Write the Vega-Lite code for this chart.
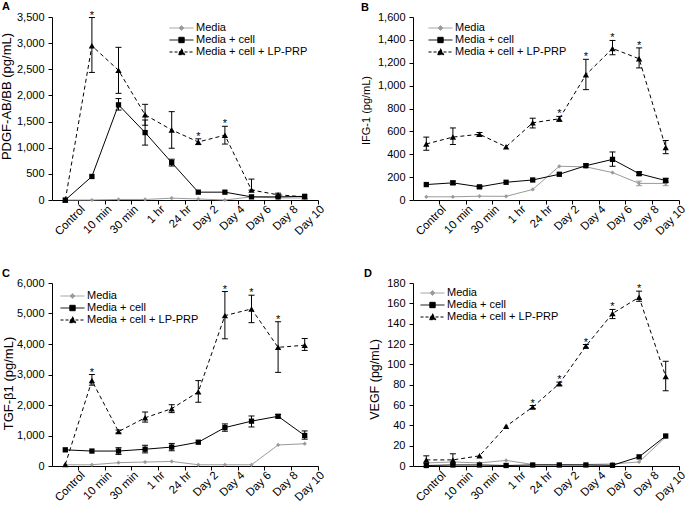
{
"$schema": "https://vega.github.io/schema/vega-lite/v6.json",
"background": "white",
"padding": {"left": 0, "top": 0, "right": 0, "bottom": 0},
"config": {
 "font": "Liberation Sans",
 "view": {"stroke": null},
 "axis": {"labelFont": "Liberation Sans", "labelFontSize": 11, "labelColor": "#000", "titleFont": "Liberation Sans", "titleFontSize": 11, "titleFontWeight": "normal", "titleColor": "#000", "domainColor": "#000", "tickColor": "#000", "tickSize": 4, "grid": false, "labelPadding": 4, "domainWidth": 1, "tickWidth": 1},
 "axisX": {"labelFontSize": 11.5},
 "legend": {"labelFont": "Liberation Sans", "labelFontSize": 11, "labelColor": "#000", "symbolSize": 144, "symbolStrokeWidth": 1, "rowPadding": 0, "labelOffset": 8, "padding": 0},
 "title": {"anchor": "start", "frame": "group", "fontSize": 11, "fontWeight": "bold", "font": "Liberation Sans", "color": "#000", "offset": -2}
},
"resolve": {"scale": {"color": "independent", "fill": "independent", "stroke": "independent", "shape": "independent", "strokeDash": "independent"}},
"data": {"values": [
{"panel":"A","time":"Control","series":"Media","value":0},
{"panel":"A","time":"10 min","series":"Media","value":0},
{"panel":"A","time":"30 min","series":"Media","value":10},
{"panel":"A","time":"1 hr","series":"Media","value":10},
{"panel":"A","time":"24 hr","series":"Media","value":35},
{"panel":"A","time":"Day 2","series":"Media","value":20},
{"panel":"A","time":"Day 4","series":"Media","value":0},
{"panel":"A","time":"Day 6","series":"Media","value":60},
{"panel":"A","time":"Day 8","series":"Media","value":40},
{"panel":"A","time":"Day 10","series":"Media","value":40},
{"panel":"A","time":"Control","series":"Media + cell","value":0},
{"panel":"A","time":"10 min","series":"Media + cell","value":450},
{"panel":"A","time":"30 min","series":"Media + cell","value":1820,"lo":1720,"hi":1940},
{"panel":"A","time":"1 hr","series":"Media + cell","value":1290,"lo":1050,"hi":1530},
{"panel":"A","time":"24 hr","series":"Media + cell","value":715,"lo":650,"hi":780},
{"panel":"A","time":"Day 2","series":"Media + cell","value":150},
{"panel":"A","time":"Day 4","series":"Media + cell","value":150},
{"panel":"A","time":"Day 6","series":"Media + cell","value":60},
{"panel":"A","time":"Day 8","series":"Media + cell","value":60},
{"panel":"A","time":"Day 10","series":"Media + cell","value":70},
{"panel":"A","time":"Control","series":"Media + cell + LP-PRP","value":0},
{"panel":"A","time":"10 min","series":"Media + cell + LP-PRP","value":2950,"lo":2440,"hi":3490,"sig":"*"},
{"panel":"A","time":"30 min","series":"Media + cell + LP-PRP","value":2480,"lo":2040,"hi":2920},
{"panel":"A","time":"1 hr","series":"Media + cell + LP-PRP","value":1630,"lo":1430,"hi":1830},
{"panel":"A","time":"24 hr","series":"Media + cell + LP-PRP","value":1340,"lo":990,"hi":1690},
{"panel":"A","time":"Day 2","series":"Media + cell + LP-PRP","value":1110,"lo":1060,"hi":1170,"sig":"*"},
{"panel":"A","time":"Day 4","series":"Media + cell + LP-PRP","value":1240,"lo":1070,"hi":1410,"sig":"*"},
{"panel":"A","time":"Day 6","series":"Media + cell + LP-PRP","value":190,"lo":190,"hi":400},
{"panel":"A","time":"Day 8","series":"Media + cell + LP-PRP","value":100,"lo":70,"hi":130},
{"panel":"A","time":"Day 10","series":"Media + cell + LP-PRP","value":60},
{"panel":"B","time":"Control","series":"Media","value":28},
{"panel":"B","time":"10 min","series":"Media","value":28},
{"panel":"B","time":"30 min","series":"Media","value":33},
{"panel":"B","time":"1 hr","series":"Media","value":32},
{"panel":"B","time":"24 hr","series":"Media","value":92},
{"panel":"B","time":"Day 2","series":"Media","value":295},
{"panel":"B","time":"Day 4","series":"Media","value":290},
{"panel":"B","time":"Day 6","series":"Media","value":240},
{"panel":"B","time":"Day 8","series":"Media","value":145,"lo":125,"hi":165},
{"panel":"B","time":"Day 10","series":"Media","value":145,"lo":125,"hi":165},
{"panel":"B","time":"Control","series":"Media + cell","value":135},
{"panel":"B","time":"10 min","series":"Media + cell","value":150,"lo":135,"hi":165},
{"panel":"B","time":"30 min","series":"Media + cell","value":115,"lo":105,"hi":125},
{"panel":"B","time":"1 hr","series":"Media + cell","value":155},
{"panel":"B","time":"24 hr","series":"Media + cell","value":175},
{"panel":"B","time":"Day 2","series":"Media + cell","value":225},
{"panel":"B","time":"Day 4","series":"Media + cell","value":300,"lo":285,"hi":315},
{"panel":"B","time":"Day 6","series":"Media + cell","value":355,"lo":295,"hi":420},
{"panel":"B","time":"Day 8","series":"Media + cell","value":230,"lo":215,"hi":245},
{"panel":"B","time":"Day 10","series":"Media + cell","value":170,"lo":155,"hi":190},
{"panel":"B","time":"Control","series":"Media + cell + LP-PRP","value":490,"lo":435,"hi":550},
{"panel":"B","time":"10 min","series":"Media + cell + LP-PRP","value":550,"lo":485,"hi":630},
{"panel":"B","time":"30 min","series":"Media + cell + LP-PRP","value":575,"lo":560,"hi":590},
{"panel":"B","time":"1 hr","series":"Media + cell + LP-PRP","value":465},
{"panel":"B","time":"24 hr","series":"Media + cell + LP-PRP","value":675,"lo":630,"hi":715},
{"panel":"B","time":"Day 2","series":"Media + cell + LP-PRP","value":710,"lo":688,"hi":731,"sig":"*"},
{"panel":"B","time":"Day 4","series":"Media + cell + LP-PRP","value":1095,"lo":965,"hi":1230,"sig":"*"},
{"panel":"B","time":"Day 6","series":"Media + cell + LP-PRP","value":1325,"lo":1270,"hi":1395,"sig":"*"},
{"panel":"B","time":"Day 8","series":"Media + cell + LP-PRP","value":1235,"lo":1155,"hi":1330,"sig":"*"},
{"panel":"B","time":"Day 10","series":"Media + cell + LP-PRP","value":460,"lo":405,"hi":520},
{"panel":"C","time":"Control","series":"Media","value":40},
{"panel":"C","time":"10 min","series":"Media","value":40},
{"panel":"C","time":"30 min","series":"Media","value":110},
{"panel":"C","time":"1 hr","series":"Media","value":130},
{"panel":"C","time":"24 hr","series":"Media","value":150},
{"panel":"C","time":"Day 2","series":"Media","value":40},
{"panel":"C","time":"Day 4","series":"Media","value":40},
{"panel":"C","time":"Day 6","series":"Media","value":40},
{"panel":"C","time":"Day 8","series":"Media","value":690},
{"panel":"C","time":"Day 10","series":"Media","value":730},
{"panel":"C","time":"Control","series":"Media + cell","value":530},
{"panel":"C","time":"10 min","series":"Media + cell","value":490},
{"panel":"C","time":"30 min","series":"Media + cell","value":490,"lo":380,"hi":600},
{"panel":"C","time":"1 hr","series":"Media + cell","value":550,"lo":430,"hi":680},
{"panel":"C","time":"24 hr","series":"Media + cell","value":620,"lo":500,"hi":740},
{"panel":"C","time":"Day 2","series":"Media + cell","value":780},
{"panel":"C","time":"Day 4","series":"Media + cell","value":1260,"lo":1140,"hi":1380},
{"panel":"C","time":"Day 6","series":"Media + cell","value":1470,"lo":1280,"hi":1640},
{"panel":"C","time":"Day 8","series":"Media + cell","value":1630,"lo":1580,"hi":1690},
{"panel":"C","time":"Day 10","series":"Media + cell","value":1000,"lo":880,"hi":1150},
{"panel":"C","time":"Control","series":"Media + cell + LP-PRP","value":50},
{"panel":"C","time":"10 min","series":"Media + cell + LP-PRP","value":2800,"lo":2650,"hi":3000,"sig":"*"},
{"panel":"C","time":"30 min","series":"Media + cell + LP-PRP","value":1130,"lo":1080,"hi":1180},
{"panel":"C","time":"1 hr","series":"Media + cell + LP-PRP","value":1580,"lo":1440,"hi":1770},
{"panel":"C","time":"24 hr","series":"Media + cell + LP-PRP","value":1880,"lo":1750,"hi":2010},
{"panel":"C","time":"Day 2","series":"Media + cell + LP-PRP","value":2430,"lo":2090,"hi":2800},
{"panel":"C","time":"Day 4","series":"Media + cell + LP-PRP","value":4930,"lo":4170,"hi":5720,"sig":"*"},
{"panel":"C","time":"Day 6","series":"Media + cell + LP-PRP","value":5150,"lo":4700,"hi":5600,"sig":"*"},
{"panel":"C","time":"Day 8","series":"Media + cell + LP-PRP","value":3890,"lo":3070,"hi":4730,"sig":"*"},
{"panel":"C","time":"Day 10","series":"Media + cell + LP-PRP","value":3960,"lo":3790,"hi":4180},
{"panel":"D","time":"Control","series":"Media","value":3},
{"panel":"D","time":"10 min","series":"Media","value":4},
{"panel":"D","time":"30 min","series":"Media","value":3},
{"panel":"D","time":"1 hr","series":"Media","value":5.5},
{"panel":"D","time":"24 hr","series":"Media","value":1.5},
{"panel":"D","time":"Day 2","series":"Media","value":1.5},
{"panel":"D","time":"Day 4","series":"Media","value":1.5},
{"panel":"D","time":"Day 6","series":"Media","value":2},
{"panel":"D","time":"Day 8","series":"Media","value":4},
{"panel":"D","time":"Day 10","series":"Media","value":28.5},
{"panel":"D","time":"Control","series":"Media + cell","value":0.5},
{"panel":"D","time":"10 min","series":"Media + cell","value":1},
{"panel":"D","time":"30 min","series":"Media + cell","value":1},
{"panel":"D","time":"1 hr","series":"Media + cell","value":0.5},
{"panel":"D","time":"24 hr","series":"Media + cell","value":1},
{"panel":"D","time":"Day 2","series":"Media + cell","value":1},
{"panel":"D","time":"Day 4","series":"Media + cell","value":1},
{"panel":"D","time":"Day 6","series":"Media + cell","value":0.7},
{"panel":"D","time":"Day 8","series":"Media + cell","value":9},
{"panel":"D","time":"Day 10","series":"Media + cell","value":29.5},
{"panel":"D","time":"Control","series":"Media + cell + LP-PRP","value":6,"lo":3,"hi":10},
{"panel":"D","time":"10 min","series":"Media + cell + LP-PRP","value":6,"lo":2,"hi":12},
{"panel":"D","time":"30 min","series":"Media + cell + LP-PRP","value":10},
{"panel":"D","time":"1 hr","series":"Media + cell + LP-PRP","value":39},
{"panel":"D","time":"24 hr","series":"Media + cell + LP-PRP","value":58,"lo":56.5,"hi":59.5,"sig":"*"},
{"panel":"D","time":"Day 2","series":"Media + cell + LP-PRP","value":81,"lo":79.5,"hi":82.5,"sig":"*"},
{"panel":"D","time":"Day 4","series":"Media + cell + LP-PRP","value":118,"lo":116,"hi":119.5,"sig":"*"},
{"panel":"D","time":"Day 6","series":"Media + cell + LP-PRP","value":150,"lo":145,"hi":154,"sig":"*"},
{"panel":"D","time":"Day 8","series":"Media + cell + LP-PRP","value":166,"lo":162,"hi":172,"sig":"*"},
{"panel":"D","time":"Day 10","series":"Media + cell + LP-PRP","value":88,"lo":74,"hi":103}
]},
"columns": 2,
"spacing": {"row": 83, "column": 95},
"bounds": "flush",
"concat": [
{
 "width": 266, "height": 183,
 "title": {"text": "A", "dx": -50},
 "transform": [{"filter": "datum.panel === 'A'"}],
 "encoding": {
  "x": {"field": "time", "type": "nominal", "sort": ["Control","10 min","30 min","1 hr","24 hr","Day 2","Day 4","Day 6","Day 8","Day 10"], "scale": {"type": "band", "paddingInner": 0, "paddingOuter": 0}, "axis": {"title": null, "labelAngle": -45, "labelAlign": "right", "labelBaseline": "top", "bandPosition": 1, "labelPadding": -1, "labelOffset": 14}},
  "y": {"field": "value", "type": "quantitative", "scale": {"domain": [0,3500], "nice": false}, "title": "PDGF-AB/BB (pg/mL)", "axis": {"values": [0,500,1000,1500,2000,2500,3000,3500], "format": ",.0f", "titlePadding": 3, "titleFontSize": 13, "titleY": 79}}
 },
 "layer": [
  {"mark": {"type": "rule", "strokeWidth": 1}, "encoding": {"y": {"field": "lo", "type": "quantitative", "scale": {"domain": [0,3500], "nice": false}, "title": "PDGF-AB/BB (pg/mL)", "axis": {"values": [0,500,1000,1500,2000,2500,3000,3500], "format": ",.0f", "titlePadding": 3, "titleFontSize": 13, "titleY": 79}}, "y2": {"field": "hi"}, "color": {"field": "series", "type": "nominal", "scale": {"range": ["#9a9a9a","#000000","#000000"]}, "legend": null}}},
  {"mark": {"type": "tick", "size": 6, "thickness": 1, "opacity": 1}, "encoding": {"y": {"field": "lo", "type": "quantitative", "scale": {"domain": [0,3500], "nice": false}, "title": "PDGF-AB/BB (pg/mL)", "axis": {"values": [0,500,1000,1500,2000,2500,3000,3500], "format": ",.0f", "titlePadding": 3, "titleFontSize": 13, "titleY": 79}}, "color": {"field": "series", "type": "nominal", "scale": {"range": ["#9a9a9a","#000000","#000000"]}, "legend": null}}},
  {"mark": {"type": "tick", "size": 6, "thickness": 1, "opacity": 1}, "encoding": {"y": {"field": "hi", "type": "quantitative", "scale": {"domain": [0,3500], "nice": false}, "title": "PDGF-AB/BB (pg/mL)", "axis": {"values": [0,500,1000,1500,2000,2500,3000,3500], "format": ",.0f", "titlePadding": 3, "titleFontSize": 13, "titleY": 79}}, "color": {"field": "series", "type": "nominal", "scale": {"range": ["#9a9a9a","#000000","#000000"]}, "legend": null}}},
  {"transform": [{"filter": "datum.series !== 'Media + cell + LP-PRP'"}], "mark": {"type": "line", "strokeWidth": 1}, "encoding": {"color": {"field": "series", "type": "nominal", "scale": {"range": ["#9a9a9a","#000000","#000000"]}, "legend": null}}},
  {"transform": [{"filter": "datum.series === 'Media + cell + LP-PRP'"}], "mark": {"type": "line", "strokeWidth": 1, "strokeDash": [4,3], "color": "#000000"}},
  {"transform": [{"filter": "datum.series === 'Media'"}], "mark": {"type": "point", "filled": true, "opacity": 1, "shape": "diamond", "size": 18, "color": "#9a9a9a"}},
  {"transform": [{"filter": "datum.series === 'Media + cell'"}], "mark": {"type": "point", "filled": true, "opacity": 1, "shape": "square", "size": 28, "color": "#000000"}},
  {"transform": [{"filter": "datum.series === 'Media + cell + LP-PRP'"}], "mark": {"type": "point", "filled": true, "opacity": 1, "shape": "triangle-up", "size": 40, "color": "#000000"}},
  {"transform": [{"filter": "datum.sig === '*'"}], "mark": {"type": "text", "fontSize": 11, "dy": 1, "baseline": "alphabetic", "color": "#000000"}, "encoding": {"y": {"field": "hi", "type": "quantitative", "scale": {"domain": [0,3500], "nice": false}, "title": "PDGF-AB/BB (pg/mL)", "axis": {"values": [0,500,1000,1500,2000,2500,3000,3500], "format": ",.0f", "titlePadding": 3, "titleFontSize": 13, "titleY": 79}}, "text": {"field": "sig"}}},
  {"transform": [{"filter": "datum.panel === 'none'"}], "mark": {"type": "point", "filled": true, "opacity": 1},
   "encoding": {
    "fill": {"field": "series", "type": "nominal", "scale": {"domain": ["Media","Media + cell","Media + cell + LP-PRP"], "range": ["#9a9a9a","#000000","#000000"]}, "legend": {"title": null, "orient": "none", "legendX": 123, "legendY": 4.5}},
    "stroke": {"field": "series", "type": "nominal", "scale": {"domain": ["Media","Media + cell","Media + cell + LP-PRP"], "range": ["#9a9a9a","#000000","#000000"]}, "legend": {"title": null, "orient": "none", "legendX": 123, "legendY": 4.5}},
    "shape": {"field": "series", "type": "nominal", "scale": {"domain": ["Media","Media + cell","Media + cell + LP-PRP"], "range": ["M-2,0H2M0,-0.4L0.4,0L0,0.4L-0.4,0Z","M-2,0H2M-0.45,-0.45H0.45V0.45H-0.45Z","M-2,0H2M0,-0.55L0.55,0.45H-0.55Z"]}, "legend": {"title": null, "orient": "none", "legendX": 123, "legendY": 4.5}},
    "strokeDash": {"field": "series", "type": "nominal", "scale": {"domain": ["Media","Media + cell","Media + cell + LP-PRP"], "range": [[1,0],[1,0],[3,2]]}, "legend": {"title": null, "orient": "none", "legendX": 123, "legendY": 4.5}}
   }}
 ]
},
{
 "width": 266, "height": 183,
 "title": {"text": "B", "dx": -52},
 "transform": [{"filter": "datum.panel === 'B'"}],
 "encoding": {
  "x": {"field": "time", "type": "nominal", "sort": ["Control","10 min","30 min","1 hr","24 hr","Day 2","Day 4","Day 6","Day 8","Day 10"], "scale": {"type": "band", "paddingInner": 0, "paddingOuter": 0}, "axis": {"title": null, "labelAngle": -45, "labelAlign": "right", "labelBaseline": "top", "bandPosition": 1, "labelPadding": -1, "labelOffset": 14}},
  "y": {"field": "value", "type": "quantitative", "scale": {"domain": [0,1600], "nice": false}, "title": "IFG-1 (pg/mL)", "axis": {"values": [0,200,400,600,800,1000,1200,1400,1600], "format": ",.0f", "titlePadding": 6, "titleY": 93}}
 },
 "layer": [
  {"mark": {"type": "rule", "strokeWidth": 1}, "encoding": {"y": {"field": "lo", "type": "quantitative", "scale": {"domain": [0,1600], "nice": false}, "title": "IFG-1 (pg/mL)", "axis": {"values": [0,200,400,600,800,1000,1200,1400,1600], "format": ",.0f", "titlePadding": 6, "titleY": 93}}, "y2": {"field": "hi"}, "color": {"field": "series", "type": "nominal", "scale": {"range": ["#9a9a9a","#000000","#000000"]}, "legend": null}}},
  {"mark": {"type": "tick", "size": 6, "thickness": 1, "opacity": 1}, "encoding": {"y": {"field": "lo", "type": "quantitative", "scale": {"domain": [0,1600], "nice": false}, "title": "IFG-1 (pg/mL)", "axis": {"values": [0,200,400,600,800,1000,1200,1400,1600], "format": ",.0f", "titlePadding": 6, "titleY": 93}}, "color": {"field": "series", "type": "nominal", "scale": {"range": ["#9a9a9a","#000000","#000000"]}, "legend": null}}},
  {"mark": {"type": "tick", "size": 6, "thickness": 1, "opacity": 1}, "encoding": {"y": {"field": "hi", "type": "quantitative", "scale": {"domain": [0,1600], "nice": false}, "title": "IFG-1 (pg/mL)", "axis": {"values": [0,200,400,600,800,1000,1200,1400,1600], "format": ",.0f", "titlePadding": 6, "titleY": 93}}, "color": {"field": "series", "type": "nominal", "scale": {"range": ["#9a9a9a","#000000","#000000"]}, "legend": null}}},
  {"transform": [{"filter": "datum.series !== 'Media + cell + LP-PRP'"}], "mark": {"type": "line", "strokeWidth": 1}, "encoding": {"color": {"field": "series", "type": "nominal", "scale": {"range": ["#9a9a9a","#000000","#000000"]}, "legend": null}}},
  {"transform": [{"filter": "datum.series === 'Media + cell + LP-PRP'"}], "mark": {"type": "line", "strokeWidth": 1, "strokeDash": [4,3], "color": "#000000"}},
  {"transform": [{"filter": "datum.series === 'Media'"}], "mark": {"type": "point", "filled": true, "opacity": 1, "shape": "diamond", "size": 18, "color": "#9a9a9a"}},
  {"transform": [{"filter": "datum.series === 'Media + cell'"}], "mark": {"type": "point", "filled": true, "opacity": 1, "shape": "square", "size": 28, "color": "#000000"}},
  {"transform": [{"filter": "datum.series === 'Media + cell + LP-PRP'"}], "mark": {"type": "point", "filled": true, "opacity": 1, "shape": "triangle-up", "size": 40, "color": "#000000"}},
  {"transform": [{"filter": "datum.sig === '*'"}], "mark": {"type": "text", "fontSize": 11, "dy": 1, "baseline": "alphabetic", "color": "#000000"}, "encoding": {"y": {"field": "hi", "type": "quantitative", "scale": {"domain": [0,1600], "nice": false}, "title": "IFG-1 (pg/mL)", "axis": {"values": [0,200,400,600,800,1000,1200,1400,1600], "format": ",.0f", "titlePadding": 6, "titleY": 93}}, "text": {"field": "sig"}}},
  {"transform": [{"filter": "datum.panel === 'none'"}], "mark": {"type": "point", "filled": true, "opacity": 1},
   "encoding": {
    "fill": {"field": "series", "type": "nominal", "scale": {"domain": ["Media","Media + cell","Media + cell + LP-PRP"], "range": ["#9a9a9a","#000000","#000000"]}, "legend": {"title": null, "orient": "none", "legendX": 21, "legendY": 4.5}},
    "stroke": {"field": "series", "type": "nominal", "scale": {"domain": ["Media","Media + cell","Media + cell + LP-PRP"], "range": ["#9a9a9a","#000000","#000000"]}, "legend": {"title": null, "orient": "none", "legendX": 21, "legendY": 4.5}},
    "shape": {"field": "series", "type": "nominal", "scale": {"domain": ["Media","Media + cell","Media + cell + LP-PRP"], "range": ["M-2,0H2M0,-0.4L0.4,0L0,0.4L-0.4,0Z","M-2,0H2M-0.45,-0.45H0.45V0.45H-0.45Z","M-2,0H2M0,-0.55L0.55,0.45H-0.55Z"]}, "legend": {"title": null, "orient": "none", "legendX": 21, "legendY": 4.5}},
    "strokeDash": {"field": "series", "type": "nominal", "scale": {"domain": ["Media","Media + cell","Media + cell + LP-PRP"], "range": [[1,0],[1,0],[3,2]]}, "legend": {"title": null, "orient": "none", "legendX": 21, "legendY": 4.5}}
   }}
 ]
},
{
 "width": 266, "height": 183,
 "title": {"text": "C", "dx": -50},
 "transform": [{"filter": "datum.panel === 'C'"}],
 "encoding": {
  "x": {"field": "time", "type": "nominal", "sort": ["Control","10 min","30 min","1 hr","24 hr","Day 2","Day 4","Day 6","Day 8","Day 10"], "scale": {"type": "band", "paddingInner": 0, "paddingOuter": 0}, "axis": {"title": null, "labelAngle": -45, "labelAlign": "right", "labelBaseline": "top", "bandPosition": 1, "labelPadding": -1, "labelOffset": 14}},
  "y": {"field": "value", "type": "quantitative", "scale": {"domain": [0,6000], "nice": false}, "title": "TGF-β1 (pg/mL)", "axis": {"values": [0,1000,2000,3000,4000,5000,6000], "format": ",.0f", "titlePadding": 1, "titleFontSize": 13, "titleY": 100}}
 },
 "layer": [
  {"mark": {"type": "rule", "strokeWidth": 1}, "encoding": {"y": {"field": "lo", "type": "quantitative", "scale": {"domain": [0,6000], "nice": false}, "title": "TGF-β1 (pg/mL)", "axis": {"values": [0,1000,2000,3000,4000,5000,6000], "format": ",.0f", "titlePadding": 1, "titleFontSize": 13, "titleY": 100}}, "y2": {"field": "hi"}, "color": {"field": "series", "type": "nominal", "scale": {"range": ["#9a9a9a","#000000","#000000"]}, "legend": null}}},
  {"mark": {"type": "tick", "size": 6, "thickness": 1, "opacity": 1}, "encoding": {"y": {"field": "lo", "type": "quantitative", "scale": {"domain": [0,6000], "nice": false}, "title": "TGF-β1 (pg/mL)", "axis": {"values": [0,1000,2000,3000,4000,5000,6000], "format": ",.0f", "titlePadding": 1, "titleFontSize": 13, "titleY": 100}}, "color": {"field": "series", "type": "nominal", "scale": {"range": ["#9a9a9a","#000000","#000000"]}, "legend": null}}},
  {"mark": {"type": "tick", "size": 6, "thickness": 1, "opacity": 1}, "encoding": {"y": {"field": "hi", "type": "quantitative", "scale": {"domain": [0,6000], "nice": false}, "title": "TGF-β1 (pg/mL)", "axis": {"values": [0,1000,2000,3000,4000,5000,6000], "format": ",.0f", "titlePadding": 1, "titleFontSize": 13, "titleY": 100}}, "color": {"field": "series", "type": "nominal", "scale": {"range": ["#9a9a9a","#000000","#000000"]}, "legend": null}}},
  {"transform": [{"filter": "datum.series !== 'Media + cell + LP-PRP'"}], "mark": {"type": "line", "strokeWidth": 1}, "encoding": {"color": {"field": "series", "type": "nominal", "scale": {"range": ["#9a9a9a","#000000","#000000"]}, "legend": null}}},
  {"transform": [{"filter": "datum.series === 'Media + cell + LP-PRP'"}], "mark": {"type": "line", "strokeWidth": 1, "strokeDash": [4,3], "color": "#000000"}},
  {"transform": [{"filter": "datum.series === 'Media'"}], "mark": {"type": "point", "filled": true, "opacity": 1, "shape": "diamond", "size": 18, "color": "#9a9a9a"}},
  {"transform": [{"filter": "datum.series === 'Media + cell'"}], "mark": {"type": "point", "filled": true, "opacity": 1, "shape": "square", "size": 28, "color": "#000000"}},
  {"transform": [{"filter": "datum.series === 'Media + cell + LP-PRP'"}], "mark": {"type": "point", "filled": true, "opacity": 1, "shape": "triangle-up", "size": 40, "color": "#000000"}},
  {"transform": [{"filter": "datum.sig === '*'"}], "mark": {"type": "text", "fontSize": 11, "dy": 1, "baseline": "alphabetic", "color": "#000000"}, "encoding": {"y": {"field": "hi", "type": "quantitative", "scale": {"domain": [0,6000], "nice": false}, "title": "TGF-β1 (pg/mL)", "axis": {"values": [0,1000,2000,3000,4000,5000,6000], "format": ",.0f", "titlePadding": 1, "titleFontSize": 13, "titleY": 100}}, "text": {"field": "sig"}}},
  {"transform": [{"filter": "datum.panel === 'none'"}], "mark": {"type": "point", "filled": true, "opacity": 1},
   "encoding": {
    "fill": {"field": "series", "type": "nominal", "scale": {"domain": ["Media","Media + cell","Media + cell + LP-PRP"], "range": ["#9a9a9a","#000000","#000000"]}, "legend": {"title": null, "orient": "none", "legendX": 14, "legendY": 6.5}},
    "stroke": {"field": "series", "type": "nominal", "scale": {"domain": ["Media","Media + cell","Media + cell + LP-PRP"], "range": ["#9a9a9a","#000000","#000000"]}, "legend": {"title": null, "orient": "none", "legendX": 14, "legendY": 6.5}},
    "shape": {"field": "series", "type": "nominal", "scale": {"domain": ["Media","Media + cell","Media + cell + LP-PRP"], "range": ["M-2,0H2M0,-0.4L0.4,0L0,0.4L-0.4,0Z","M-2,0H2M-0.45,-0.45H0.45V0.45H-0.45Z","M-2,0H2M0,-0.55L0.55,0.45H-0.55Z"]}, "legend": {"title": null, "orient": "none", "legendX": 14, "legendY": 6.5}},
    "strokeDash": {"field": "series", "type": "nominal", "scale": {"domain": ["Media","Media + cell","Media + cell + LP-PRP"], "range": [[1,0],[1,0],[3,2]]}, "legend": {"title": null, "orient": "none", "legendX": 14, "legendY": 6.5}}
   }}
 ]
},
{
 "width": 266, "height": 183,
 "title": {"text": "D", "dx": -49},
 "transform": [{"filter": "datum.panel === 'D'"}],
 "encoding": {
  "x": {"field": "time", "type": "nominal", "sort": ["Control","10 min","30 min","1 hr","24 hr","Day 2","Day 4","Day 6","Day 8","Day 10"], "scale": {"type": "band", "paddingInner": 0, "paddingOuter": 0}, "axis": {"title": null, "labelAngle": -45, "labelAlign": "right", "labelBaseline": "top", "bandPosition": 1, "labelPadding": -1, "labelOffset": 14}},
  "y": {"field": "value", "type": "quantitative", "scale": {"domain": [0,180], "nice": false}, "title": "VEGF (pg/mL)", "axis": {"values": [0,20,40,60,80,100,120,140,160,180], "format": ",.0f", "titlePadding": 5, "titleFontSize": 12.5, "titleY": 96}}
 },
 "layer": [
  {"mark": {"type": "rule", "strokeWidth": 1}, "encoding": {"y": {"field": "lo", "type": "quantitative", "scale": {"domain": [0,180], "nice": false}, "title": "VEGF (pg/mL)", "axis": {"values": [0,20,40,60,80,100,120,140,160,180], "format": ",.0f", "titlePadding": 5, "titleFontSize": 12.5, "titleY": 96}}, "y2": {"field": "hi"}, "color": {"field": "series", "type": "nominal", "scale": {"range": ["#9a9a9a","#000000","#000000"]}, "legend": null}}},
  {"mark": {"type": "tick", "size": 6, "thickness": 1, "opacity": 1}, "encoding": {"y": {"field": "lo", "type": "quantitative", "scale": {"domain": [0,180], "nice": false}, "title": "VEGF (pg/mL)", "axis": {"values": [0,20,40,60,80,100,120,140,160,180], "format": ",.0f", "titlePadding": 5, "titleFontSize": 12.5, "titleY": 96}}, "color": {"field": "series", "type": "nominal", "scale": {"range": ["#9a9a9a","#000000","#000000"]}, "legend": null}}},
  {"mark": {"type": "tick", "size": 6, "thickness": 1, "opacity": 1}, "encoding": {"y": {"field": "hi", "type": "quantitative", "scale": {"domain": [0,180], "nice": false}, "title": "VEGF (pg/mL)", "axis": {"values": [0,20,40,60,80,100,120,140,160,180], "format": ",.0f", "titlePadding": 5, "titleFontSize": 12.5, "titleY": 96}}, "color": {"field": "series", "type": "nominal", "scale": {"range": ["#9a9a9a","#000000","#000000"]}, "legend": null}}},
  {"transform": [{"filter": "datum.series !== 'Media + cell + LP-PRP'"}], "mark": {"type": "line", "strokeWidth": 1}, "encoding": {"color": {"field": "series", "type": "nominal", "scale": {"range": ["#9a9a9a","#000000","#000000"]}, "legend": null}}},
  {"transform": [{"filter": "datum.series === 'Media + cell + LP-PRP'"}], "mark": {"type": "line", "strokeWidth": 1, "strokeDash": [4,3], "color": "#000000"}},
  {"transform": [{"filter": "datum.series === 'Media'"}], "mark": {"type": "point", "filled": true, "opacity": 1, "shape": "diamond", "size": 18, "color": "#9a9a9a"}},
  {"transform": [{"filter": "datum.series === 'Media + cell'"}], "mark": {"type": "point", "filled": true, "opacity": 1, "shape": "square", "size": 28, "color": "#000000"}},
  {"transform": [{"filter": "datum.series === 'Media + cell + LP-PRP'"}], "mark": {"type": "point", "filled": true, "opacity": 1, "shape": "triangle-up", "size": 40, "color": "#000000"}},
  {"transform": [{"filter": "datum.sig === '*'"}], "mark": {"type": "text", "fontSize": 11, "dy": 1, "baseline": "alphabetic", "color": "#000000"}, "encoding": {"y": {"field": "hi", "type": "quantitative", "scale": {"domain": [0,180], "nice": false}, "title": "VEGF (pg/mL)", "axis": {"values": [0,20,40,60,80,100,120,140,160,180], "format": ",.0f", "titlePadding": 5, "titleFontSize": 12.5, "titleY": 96}}, "text": {"field": "sig"}}},
  {"transform": [{"filter": "datum.panel === 'none'"}], "mark": {"type": "point", "filled": true, "opacity": 1},
   "encoding": {
    "fill": {"field": "series", "type": "nominal", "scale": {"domain": ["Media","Media + cell","Media + cell + LP-PRP"], "range": ["#9a9a9a","#000000","#000000"]}, "legend": {"title": null, "orient": "none", "legendX": 13, "legendY": 3.5}},
    "stroke": {"field": "series", "type": "nominal", "scale": {"domain": ["Media","Media + cell","Media + cell + LP-PRP"], "range": ["#9a9a9a","#000000","#000000"]}, "legend": {"title": null, "orient": "none", "legendX": 13, "legendY": 3.5}},
    "shape": {"field": "series", "type": "nominal", "scale": {"domain": ["Media","Media + cell","Media + cell + LP-PRP"], "range": ["M-2,0H2M0,-0.4L0.4,0L0,0.4L-0.4,0Z","M-2,0H2M-0.45,-0.45H0.45V0.45H-0.45Z","M-2,0H2M0,-0.55L0.55,0.45H-0.55Z"]}, "legend": {"title": null, "orient": "none", "legendX": 13, "legendY": 3.5}},
    "strokeDash": {"field": "series", "type": "nominal", "scale": {"domain": ["Media","Media + cell","Media + cell + LP-PRP"], "range": [[1,0],[1,0],[3,2]]}, "legend": {"title": null, "orient": "none", "legendX": 13, "legendY": 3.5}}
   }}
 ]
}
]
}
